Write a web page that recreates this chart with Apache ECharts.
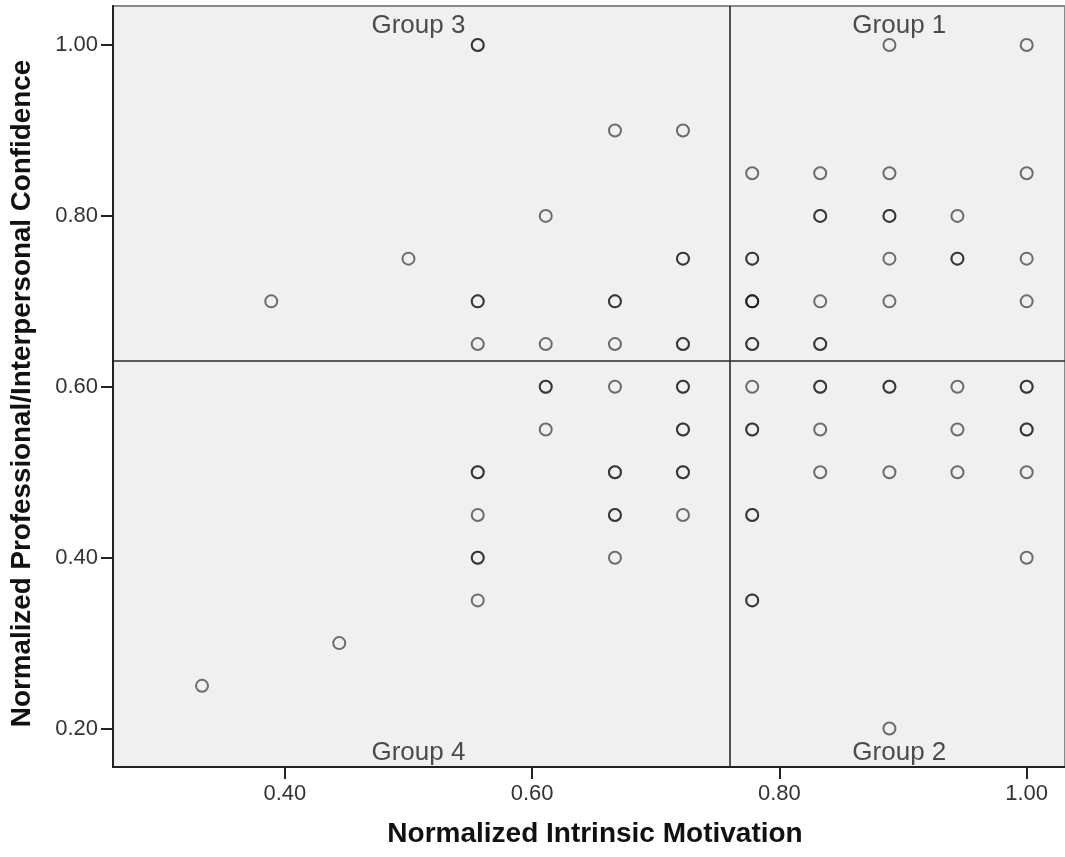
<!DOCTYPE html>
<html>
<head>
<meta charset="utf-8">
<script src="https://cdn.jsdelivr.net/npm/echarts@6/dist/echarts.min.js"></script>
<style>
	html, body { margin: 0; padding: 0; background: #fff; }
	#chart { width: 1065px; height: 857px; }
</style>
</head>
<body>
<div id="chart"></div>
<script>
// each case: [intrinsic motivation, confidence, number of overlapping cases]
var cases = [
	[0.333, 0.25, 1],
	[0.389, 0.70, 1],
	[0.444, 0.30, 1],
	[0.500, 0.75, 1],
	[0.556, 1.00, 2], [0.556, 0.70, 2], [0.556, 0.65, 1], [0.556, 0.50, 2], [0.556, 0.45, 1], [0.556, 0.40, 2], [0.556, 0.35, 1],
	[0.611, 0.80, 1], [0.611, 0.65, 1], [0.611, 0.60, 2], [0.611, 0.55, 1],
	[0.667, 0.90, 1], [0.667, 0.70, 2], [0.667, 0.65, 1], [0.667, 0.60, 1], [0.667, 0.50, 2], [0.667, 0.45, 2], [0.667, 0.40, 1],
	[0.722, 0.90, 1], [0.722, 0.75, 2], [0.722, 0.65, 2], [0.722, 0.60, 2], [0.722, 0.55, 2], [0.722, 0.50, 2], [0.722, 0.45, 1],
	[0.778, 0.85, 1], [0.778, 0.75, 2], [0.778, 0.70, 3], [0.778, 0.65, 2], [0.778, 0.60, 1], [0.778, 0.55, 2], [0.778, 0.45, 2], [0.778, 0.35, 2],
	[0.833, 0.85, 1], [0.833, 0.80, 2], [0.833, 0.70, 1], [0.833, 0.65, 2], [0.833, 0.60, 2], [0.833, 0.55, 1], [0.833, 0.50, 1],
	[0.889, 1.00, 1], [0.889, 0.85, 1], [0.889, 0.80, 2], [0.889, 0.75, 1], [0.889, 0.70, 1], [0.889, 0.60, 2], [0.889, 0.50, 1], [0.889, 0.20, 1],
	[0.944, 0.80, 1], [0.944, 0.75, 2], [0.944, 0.60, 1], [0.944, 0.55, 1], [0.944, 0.50, 1],
	[1.000, 1.00, 1], [1.000, 0.85, 1], [1.000, 0.75, 1], [1.000, 0.70, 1], [1.000, 0.60, 2], [1.000, 0.55, 2], [1.000, 0.50, 1], [1.000, 0.40, 1]
];

// cut lines splitting the groups
var cutX = 0.755;
var cutY = 0.632;

var xTicks = [0.40, 0.60, 0.80, 1.00];
var yTicks = [0.20, 0.40, 0.60, 0.80, 1.00];

var groupNames = ['Group 1', 'Group 2', 'Group 3', 'Group 4'];
var groupX = [0.897, 0.897, 0.508, 0.508];
var groupY = [1.022, 0.172, 1.022, 0.172];

var chart = echarts.init(document.getElementById('chart'));

var points = [];
for (var i = 0; i < cases.length; i++) {
	for (var k = 0; k < cases[i][2]; k++) {
		points.push([cases[i][0], cases[i][1]]);
	}
}
var groupData = [];
for (var g = 0; g < groupNames.length; g++) {
	groupData.push({ name: groupNames[g], value: [groupX[g], groupY[g]] });
}

var font = '"Liberation Sans", Arial, sans-serif';

var option = {
	animation: false,
	backgroundColor: '#ffffff',
	grid: {
		left: 112,
		top: 6,
		right: 0,
		bottom: 90,
		show: true,
		backgroundColor: '#f0f0f0',
		borderColor: '#8a8a8a',
		borderWidth: 2
	},
	xAxis: {
		type: 'value',
		min: 0.261,
		max: 1.031,
		name: 'Normalized Intrinsic Motivation',
		nameLocation: 'middle',
		nameGap: 53,
		nameTextStyle: { fontFamily: font, fontWeight: 'bold', fontSize: 28, color: '#111', padding: [0, 0, 0, 12] },
		splitLine: { show: false },
		axisLine: { lineStyle: { color: '#222', width: 2 } },
		axisTick: { length: 12, lineStyle: { color: '#222', width: 2 }, customValues: xTicks },
		axisLabel: {
			customValues: xTicks,
			margin: 16,
			fontFamily: font,
			fontSize: 22,
			color: '#333',
			formatter: function(v) { return v.toFixed(2); }
		}
	},
	yAxis: {
		type: 'value',
		min: 0.155,
		max: 1.0457,
		name: 'Normalized Professional/Interpersonal Confidence',
		nameLocation: 'middle',
		nameGap: 77,
		nameTextStyle: { fontFamily: font, fontWeight: 'bold', fontSize: 27.8, color: '#111', padding: [0, 14, 0, 0] },
		splitLine: { show: false },
		axisLine: { lineStyle: { color: '#222', width: 2 } },
		axisTick: { length: 12, lineStyle: { color: '#222', width: 2 }, customValues: yTicks },
		axisLabel: {
			customValues: yTicks,
			margin: 15,
			fontFamily: font,
			fontSize: 22,
			color: '#333',
			formatter: function(v) { return v.toFixed(2); }
		}
	},
	series: [{
		type: 'scatter',
		data: points,
		symbol: 'circle',
		symbolSize: 12,
		itemStyle: {
			color: 'rgba(0,0,0,0)',
			borderColor: 'rgba(20,20,20,0.75)',
			borderWidth: 2
		},
		markLine: {
			silent: true,
			symbol: 'none',
			label: { show: false },
			lineStyle: { color: '#2a2a2a', width: 1.6, type: 'solid' },
			data: [{ xAxis: cutX }, { yAxis: cutY }]
		}
	}, {
		type: 'scatter',
		data: groupData,
		symbolSize: 0,
		silent: true,
		label: {
			show: true,
			position: 'inside',
			formatter: '{b}',
			fontFamily: font,
			fontSize: 26,
			color: '#222'
		}
	}]
};

chart.setOption(option);
</script>
</body>
</html>
